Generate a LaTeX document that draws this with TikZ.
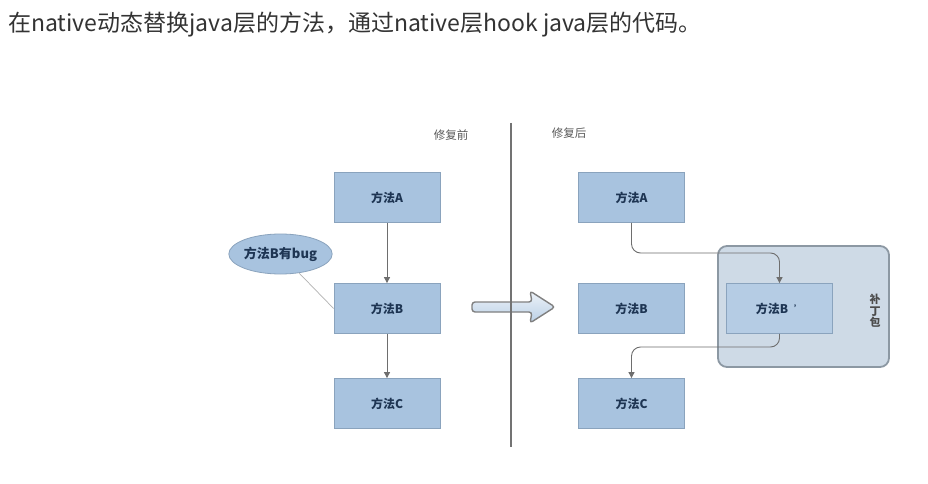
\documentclass[tikz,border=0pt]{standalone}
\usepackage{fontspec}
\setmainfont{Noto Sans CJK SC}
\usetikzlibrary{arrows.meta,shapes.geometric,calc}
\definecolor{boxfill}{HTML}{A8C3DF}
\definecolor{boxline}{HTML}{8AA3BD}
\definecolor{txtc}{HTML}{1E3553}
\definecolor{connc}{HTML}{6E6E6E}
\definecolor{packfill}{HTML}{CEDAE6}
\definecolor{packline}{HTML}{8C98A3}
\tikzset{
  mbox/.style={draw=boxline, line width=0.8pt, fill=boxfill, minimum width=106pt, minimum height=50pt, inner sep=0pt, font=\fontsize{12}{14}\selectfont\bfseries, text=txtc},
  conn/.style={draw=connc, line width=0.9pt, -{Triangle[width=6pt,length=6pt]}},
  steplabel/.style={font=\fontsize{11.5}{13}\selectfont, text=black!65},
}
\begin{document}
\begin{tikzpicture}[x=1pt,y=-1pt]
\useasboundingbox[fill=white] (0,0) rectangle (928,484);
% title
\node[anchor=west, inner sep=0pt, font=\fontsize{23}{26}\selectfont, text=black!80] (title) at (8,25) {在native动态替换java层的方法，通过native层hook java层的代码。};
% left side
\node[steplabel] (before) at (451,135) {修复前};
\node[mbox] (A1) at (387,197.5) {方法A};
\node[mbox] (B1) at (387,308.5) {方法B};
\node[mbox] (C1) at (387,403.5) {方法C};
\node[ellipse, draw=boxline, line width=0.8pt, fill=boxfill, minimum width=87pt, minimum height=40pt, inner sep=0pt, font=\fontsize{13}{15}\selectfont\bfseries, text=txtc] (E) at (280.5,254) {方法B有bug};
\draw[black!30, line width=0.7pt] (E) -- (B1.west);
\draw[conn] (A1) -- (B1);
\draw[conn] (B1) -- (C1);
% big arrow
\draw[draw=black!50, line width=1.4pt, rounded corners=3pt, top color=white!80!boxfill, bottom color=boxfill!80!white]
  (472,302) -- (532,302) -- (530,291) -- (555,307) -- (530,323) -- (532,312) -- (472,312) -- cycle;
% divider
\coordinate (dtop) at (511,123);
\coordinate (dbot) at (511,447);
\draw[black!55, line width=1.2pt] (dtop) -- (dbot);
% right side
\node[steplabel] (after) at (569,133) {修复后};
\node[mbox] (A2) at (631.5,197.5) {方法A};
\node[mbox] (B2) at (631.5,308.5) {方法B};
\node[mbox] (C2) at (631.5,403.5) {方法C};
\node[draw=packline, line width=1.8pt, fill=packfill, rounded corners=9pt, minimum width=171pt, minimum height=121pt, inner sep=0pt] (pack) at (803.5,306.5) {};
\node[mbox, fill=boxfill!85!white] (Bp) at (779.5,308.5) {方法B\hspace{0.5em}\raisebox{1pt}{\fontsize{9}{9}\selectfont ’}};
\node[font=\fontsize{11}{11.5}\selectfont\bfseries, text=black!70, align=center, inner sep=0pt] (packlabel) at (875,311) {补\\丁\\包};
\draw[conn, rounded corners=9pt] (A2.south) -- (A2.south |- 0,253) -| (Bp.north);
\draw[conn, rounded corners=9pt] (Bp.south) -- (Bp.south |- 0,347) -| (C2.north);
\end{tikzpicture}
\end{document}
